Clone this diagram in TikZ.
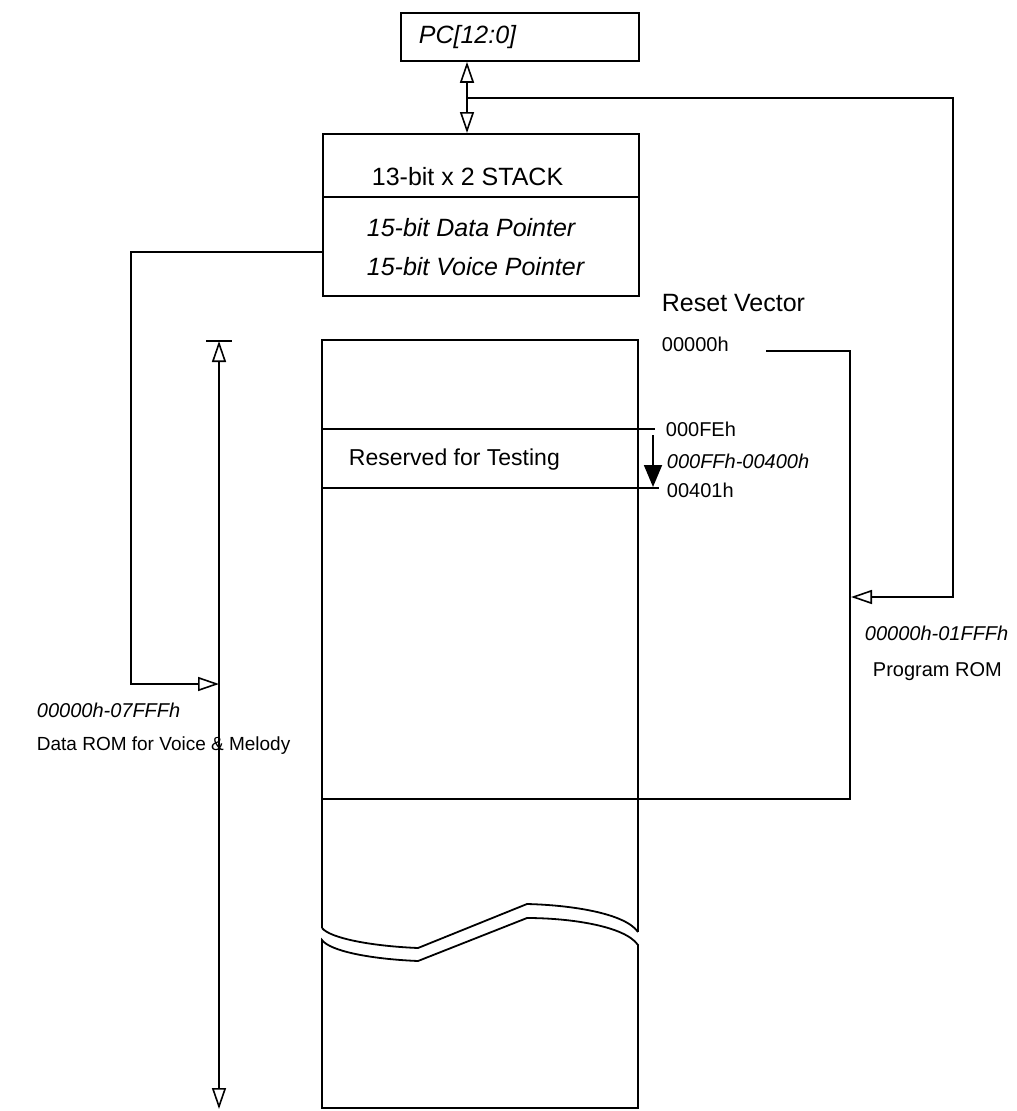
\documentclass[tikz,border=0pt]{standalone}
\usepackage{fontspec}
\setmainfont{Liberation Sans}
\usetikzlibrary{arrows.meta}
\begin{document}
\begin{tikzpicture}[x=1pt,y=-1pt,line width=1.8pt,
  big/.style={anchor=west,inner sep=0pt,font=\fontsize{25}{30}\selectfont},
  mid/.style={anchor=west,inner sep=0pt,font=\fontsize{23}{28}\selectfont},
  sml/.style={anchor=west,inner sep=0pt,font=\fontsize{20}{24}\selectfont},
  boxn/.style={draw,line width=1.8pt,inner sep=0pt,anchor=north west}]
\useasboundingbox (0,0) rectangle (1017,1111);

% boxes
\node[boxn,minimum width=238pt,minimum height=48pt] (pc) at (400,12) {};
\node[big,font=\fontsize{25}{30}\selectfont\itshape] (pct) at (418,37) {PC[12:0]};
\node[boxn,minimum width=316pt,minimum height=162pt] (stack) at (322,133) {};
\draw (stack.west |- 0,197) coordinate (sd) -- (stack.east |- sd);
\node[big] (st1) at (371,177) {13-bit x 2 STACK};
\node[big,font=\fontsize{25}{30}\selectfont\itshape] (st2) at (366,228) {15-bit Data Pointer};
\node[big,font=\fontsize{25}{30}\selectfont\itshape] (st3) at (366,267) {15-bit Voice Pointer};

% bus between PC and stack
\coordinate (busx) at (467,98);
\draw[{Triangle[open,length=21pt,width=14pt,line width=1.6pt]}-{Triangle[open,length=21pt,width=14pt,line width=1.6pt]}]
  (busx |- pc.south) -- (busx |- stack.north);
\coordinate (pr) at (851,597);
\draw[-{Triangle[open,length=21pt,width=14pt,line width=1.6pt]}]
  (busx) -- (953,98) -- (953,597) -- (pr);

% data pointer connector
\coordinate (dr) at (219,684);
\draw[-{Triangle[open,length=21pt,width=14pt,line width=1.6pt]}]
  (stack.west |- 0,252) -- (131,252) -- (131,684) -- (dr);

% long dimension line
\coordinate (dtop) at (219,341);
\coordinate (dbot) at (219,1109);
\draw[{Triangle[open,length=21pt,width=14pt,line width=1.6pt]}-{Triangle[open,length=21pt,width=14pt,line width=1.6pt]}]
  (dtop) -- (dbot);
\draw (206,341) -- (232,341);

% memory column
\coordinate (mtl) at (322,340);
\coordinate (mtr) at (638,340);
\draw (322,928) -- (mtl) -- (mtr) -- (638,932);
\draw (322,429) -- (655,429);
\draw (322,488) -- (659,488);
\draw (322,799) -- (850,799) -- (850,351) -- (766,351);
\draw[-{Triangle[length=22pt,width=18pt]}] (653,435) -- (653,487);

% break
\draw (322,928) .. controls (330,938) and (370,946) .. (418,948) -- (527,904)
      .. controls (570,905) and (625,913) .. (638,932);
\draw (638,945) .. controls (625,926) and (570,918) .. (527,918) -- (418,961)
      .. controls (370,959) and (330,951) .. (322,940) -- (322,1108) -- (638,1108) -- cycle;

% labels
\node[mid] (rft) at (348,460) {Reserved for Testing};
\node[big] (rv) at (661,303) {Reset Vector};
\node[sml] (a0) at (661,344) {00000h};
\node[sml] (afe) at (665,429) {000FEh};
\node[sml,font=\fontsize{20}{24}\selectfont\itshape] (aff) at (666,461) {000FFh-00400h};
\node[sml] (a401) at (666,490) {00401h};
\node[sml,font=\fontsize{20}{24}\selectfont\itshape] (prr) at (864,633) {00000h-01FFFh};
\node[sml] (prl) at (872,672) {Program ROM};
\node[sml,font=\fontsize{20}{24}\selectfont\itshape] (drr) at (36,710) {00000h-07FFFh};
\node[sml,font=\fontsize{19}{23}\selectfont] (drl) at (36,746) {Data ROM for Voice \& Melody};
\end{tikzpicture}
\end{document}
